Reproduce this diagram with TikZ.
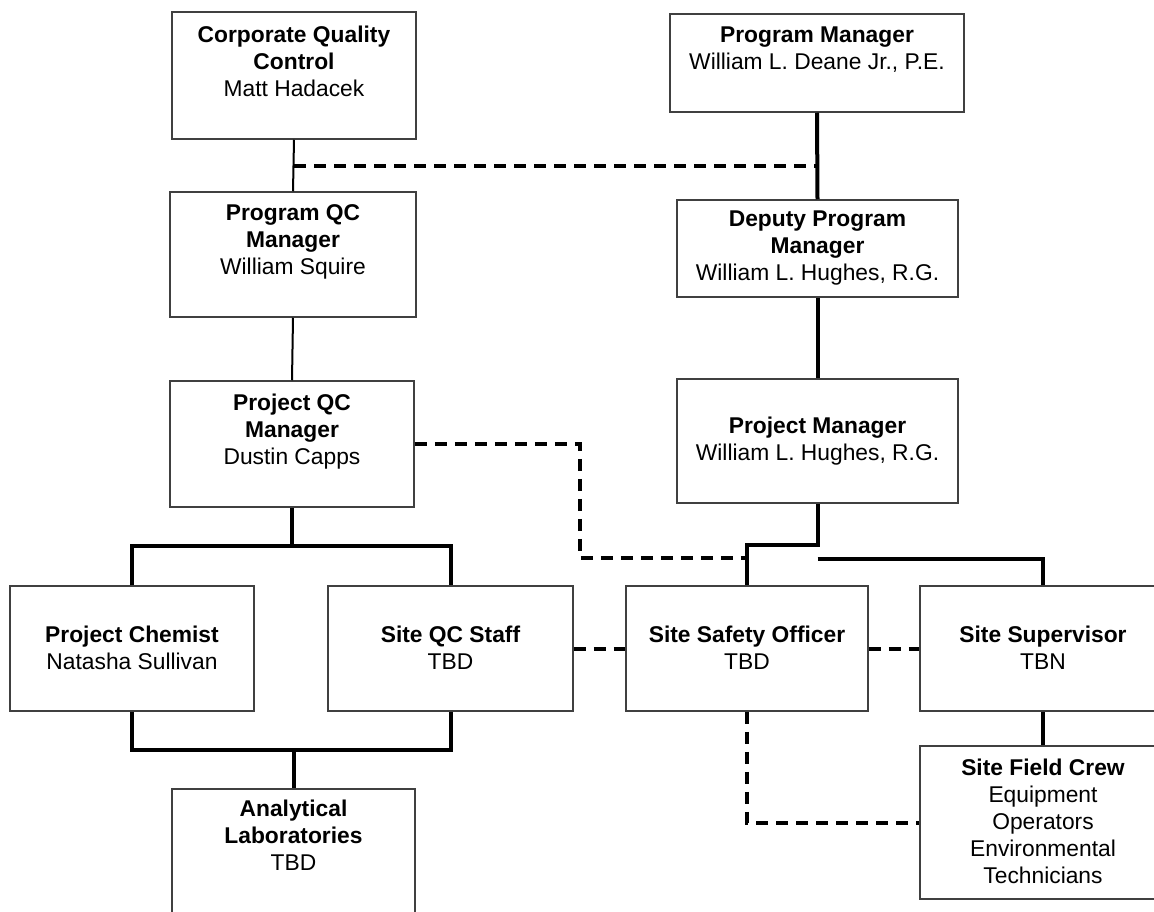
\documentclass[tikz,border=0pt]{standalone}
\usepackage{fontspec}
\setmainfont{Liberation Sans}
\usepackage{tikz}
\usetikzlibrary{positioning}
\newcommand{\bstrut}{\rule[-2.3pt]{0pt}{27pt}}

\begin{document}
\begin{tikzpicture}[
    x=1pt, y=-1pt,
    unit/.style={rectangle, draw=black!75, line width=1.5pt, align=center, inner sep=2pt, font=\fontsize{22.8}{27}\selectfont, execute at begin node=\bstrut, execute at end node=\bstrut},
    link/.style={line width=4pt},
    thinlink/.style={line width=2pt},
    staff/.style={line width=4pt, dash pattern=on 12pt off 8pt}
]
    \useasboundingbox (0,0) rectangle (1154,912);

    % QC side
    \node[unit, minimum width=244, minimum height=127] (cqc) at (294,75.5) {\textbf{Corporate Quality}\\\textbf{Control}\\Matt Hadacek\\~};
    \node[unit, minimum width=246, minimum height=125] (pqc) at (293,254.5) {\textbf{Program QC}\\\textbf{Manager}\\William Squire\\~};
    \node[unit, minimum width=244, minimum height=126] (prqc) at (292,444) {\textbf{Project QC}\\\textbf{Manager}\\Dustin Capps\\~};

    % Management side
    \node[unit, minimum width=294, minimum height=98] (pm) at (817,63) {\textbf{Program Manager}\\William L. Deane Jr., P.E.\\~};
    \node[unit, minimum width=281, minimum height=97] (dpm) at (817.5,248.5) {\textbf{Deputy Program}\\\textbf{Manager}\\William L. Hughes, R.G.};
    \node[unit, minimum width=281, minimum height=124] (prm) at (817.5,441) {\textbf{Project Manager}\\William L. Hughes, R.G.};

    % Site level
    \node[unit, minimum width=244, minimum height=125] (chem) at (132,648.5) {\textbf{Project Chemist}\\Natasha Sullivan};
    \node[unit, minimum width=245, minimum height=125] (sqc) at (450.5,648.5) {\textbf{Site QC Staff}\\TBD};
    \node[unit, minimum width=242, minimum height=125] (sso) at (747,648.5) {\textbf{Site Safety Officer}\\TBD};
    \node[unit, minimum width=246, minimum height=125] (ss) at (1043,648.5) {\textbf{Site Supervisor}\\TBN};

    % Bottom row
    \node[unit, minimum width=246, minimum height=153] (sfc) at (1043,822.5) {\textbf{Site Field Crew}\\Equipment\\Operators\\Environmental\\Technicians};
    \node[unit, minimum width=243, minimum height=148] (al) at (293.5,863) {\textbf{Analytical}\\\textbf{Laboratories}\\TBD\\~\\~};

    % Reporting lines
    \draw[thinlink] (cqc.south) -- (pqc.north);
    \draw[thinlink] (pqc.south) -- (prqc.north);
    \draw[link] (pm.south) -- (dpm.north);
    \draw[link] (dpm.south) -- (prm.north);
    \draw[link] (prm.south) -- ++(0,41) -| (sso.north);
    \coordinate (ssbranch) at (prm.south |- 0,559);
    \draw[link] (ssbranch) -| (ss.north);
    \draw[link] (prqc.south) -- ++(0,38) coordinate (qcfork);
    \draw[link] (chem.north) |- (qcfork) -| (sqc.north);
    \coordinate (labfork) at (al.north |- 0,750);
    \draw[link] (chem.south) |- (labfork) -| (sqc.south);
    \draw[link] (labfork) -- (al.north);
    \draw[link] (ss.south) -- (sfc.north);

    % Coordination lines
    \coordinate (qcjoin) at (cqc.south |- 0,166);
    \draw[staff] (qcjoin) -- (qcjoin -| pm.south);
    \draw[staff] (prqc.east) -| (580,558) -- (sso.north |- 0,558);
    \draw[staff] (sqc.east) -- (sso.west);
    \draw[staff] (sso.east) -- (ss.west);
    \draw[staff] (sso.south) |- (sfc.west);
\end{tikzpicture}
\end{document}
